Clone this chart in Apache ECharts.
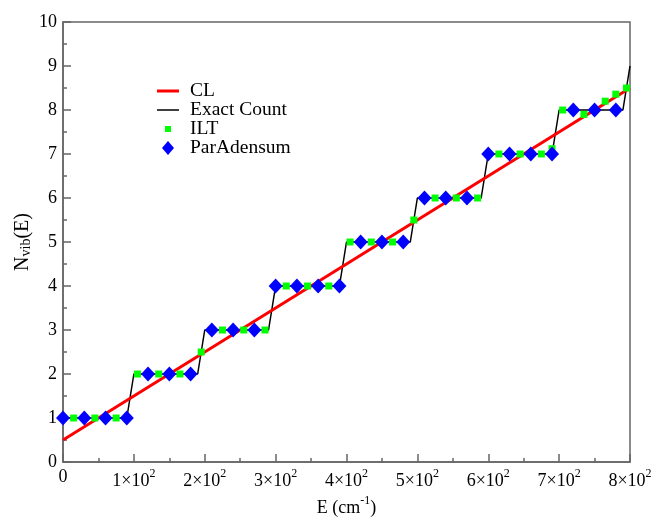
<!DOCTYPE html>
<html>
<head>
<meta charset="utf-8">
<script src="https://cdn.jsdelivr.net/npm/echarts@6/dist/echarts.min.js"></script>
<style>
  html, body { margin: 0; padding: 0; background: #fff; }
  #chart { width: 655px; height: 518px; }
</style>
</head>
<body>
<div id="chart"></div>
<script>
// classical (CL) line
const clPoints = [[0, 0.5], [800, 8.5]];

// exact count staircase
const exactPoints = [
  [0, 1], [90, 1], [100, 2], [190, 2], [200, 3], [290, 3], [300, 4],
  [390, 4], [400, 5], [490, 5], [500, 6], [590, 6], [600, 7],
  [690, 7], [700, 8], [790, 8], [800, 9]
];

// ILT samples
const iltX = [15, 45, 75, 105, 135, 165, 195, 225, 255, 285, 315, 345, 375, 405, 435,
  465, 495, 525, 555, 585, 615, 645, 675, 690, 705, 735, 765, 780, 795];
const iltY = [1, 1, 1, 2, 2, 2, 2.5, 3, 3, 3, 4, 4, 4, 5, 5,
  5, 5.5, 6, 6, 6, 7, 7, 7, 7.12, 8, 7.9, 8.2, 8.36, 8.5];

// ParAdensum samples
const parX = [0, 30, 60, 90, 120, 150, 180, 210, 240, 270, 300, 330, 360, 390,
  420, 450, 480, 510, 540, 570, 600, 630, 660, 690, 720, 750, 780];
const parY = [1, 1, 1, 1, 2, 2, 2, 3, 3, 3, 4, 4, 4, 4,
  5, 5, 5, 6, 6, 6, 7, 7, 7, 7, 8, 8, 8];

const serif = "Liberation Serif";
const axisGray = "#666";

// rich text styles for superscripts
const supRich = {
  b: { fontFamily: serif, fontSize: 18, color: "#000" },
  s: { fontFamily: serif, fontSize: 12, color: "#000", verticalAlign: "top", padding: [0, 0, 14, 0] }
};

const chart = echarts.init(document.getElementById("chart"));

chart.setOption({
  animation: false,
  backgroundColor: "#fff",
  grid: {
    left: 63, right: 25, top: 22, bottom: 56,
    outerBoundsMode: "none",
    containLabel: false,
    show: true, borderColor: axisGray, borderWidth: 1.5
  },
  legend: {
    orient: "vertical",
    left: 152,
    top: 76,
    itemWidth: 22,
    itemHeight: 14,
    itemGap: -1,
    textStyle: { fontFamily: serif, fontSize: 19.5, color: "#000", padding: [0, 0, 0, 6], lineHeight: 18 },
    data: [
      { name: "CL", icon: "path://M0,0 h22 v3 h-22 z" },
      { name: "Exact Count", icon: "path://M0,0 h22 v1.5 h-22 z" },
      { name: "ILT", icon: "path://M0,0 L0.01,0 L0,0.01 z M14,14 L13.99,14 L14,13.99 z M4,4 h6 v6 h-6 z" },
      { name: "ParAdensum", icon: "path://M6,0 L12,7 L6,14 L0,7 z" }
    ]
  },
  xAxis: {
    type: "value",
    min: 0, max: 800, interval: 100,
    name: "{b|E (cm}{s|-1}{b|)}",
    nameLocation: "middle",
    nameGap: 31,
    nameTextStyle: { rich: supRich },
    axisLine: { show: true, lineStyle: { color: axisGray, width: 1.5 } },
    axisTick: { inside: true, length: 8, lineStyle: { color: axisGray, width: 1.5 } },
    minorTick: { show: true, splitNumber: 2, length: 4, lineStyle: { color: axisGray, width: 1.5 } },
    splitLine: { show: false },
    axisLabel: {
      margin: 6,
      formatter: (v) => v === 0 ? "{b|0}" : "{b|" + (v / 100) + "×10}{s|2}",
      rich: supRich
    }
  },
  yAxis: {
    type: "value",
    min: 0, max: 10, interval: 1,
    name: "{b|N}{s|vib}{b|(E)}",
    nameLocation: "middle",
    nameGap: 30,
    nameMoveOverlap: false,
    nameRotate: 90,
    nameTextStyle: {
      rich: {
        b: { fontFamily: serif, fontSize: 20, color: "#000" },
        s: { fontFamily: serif, fontSize: 14, color: "#000", verticalAlign: "bottom", padding: [6, 0, 0, 0] }
      }
    },
    axisLine: { show: true, lineStyle: { color: axisGray, width: 1.5 } },
    axisTick: { inside: true, length: 8, lineStyle: { color: axisGray, width: 1.5 } },
    minorTick: { show: true, splitNumber: 2, length: 4, lineStyle: { color: axisGray, width: 1.5 } },
    splitLine: { show: false },
    axisLabel: { margin: 6, fontFamily: serif, fontSize: 18, color: "#000" }
  },
  series: [
    {
      name: "Exact Count",
      type: "line",
      data: exactPoints,
      showSymbol: false,
      lineStyle: { color: "#000", width: 1.5 },
      itemStyle: { color: "#000" },
      z: 2
    },
    {
      name: "CL",
      type: "line",
      data: clPoints,
      showSymbol: false,
      lineStyle: { color: "#ff0000", width: 3 },
      itemStyle: { color: "#ff0000" },
      z: 3
    },
    {
      name: "ILT",
      type: "scatter",
      data: iltX.map((x, i) => [x, iltY[i]]),
      symbol: "rect",
      symbolSize: 7,
      itemStyle: { color: "#00ff00", opacity: 1 },
      z: 4
    },
    {
      name: "ParAdensum",
      type: "scatter",
      data: parX.map((x, i) => [x, parY[i]]),
      symbol: "diamond",
      symbolSize: [14, 15],
      itemStyle: { color: "#0000ff", opacity: 1 },
      z: 5
    }
  ]
});
</script>
</body>
</html>
